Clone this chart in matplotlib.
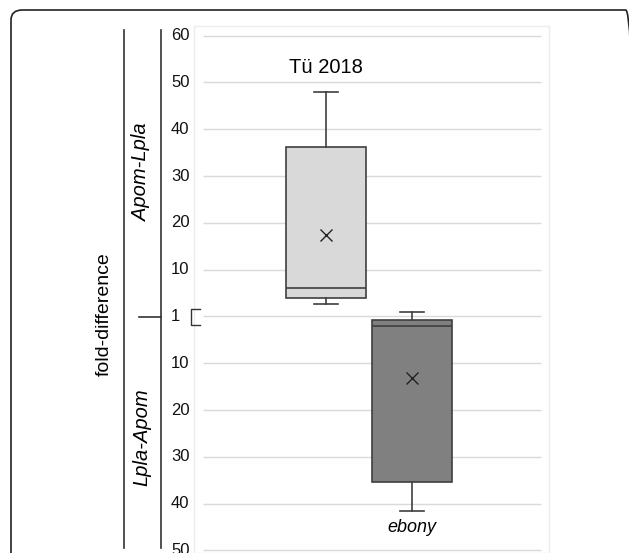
import matplotlib.pyplot as plt
from matplotlib.patches import FancyBboxPatch
from matplotlib.lines import Line2D

plt.rcParams['font.family'] = ['Liberation Sans', 'DejaVu Sans']
plt.rcParams['font.size'] = 12

# fold-difference, drawn as signed values (negative = Lpla-Apom side)
groups = ["Tü 2018", "ebony"]
whis_hi = [48.0, 1.0]
q3 = [36.2, -0.7]
medians = [6.1, -2.0]
q1 = [3.9, -35.3]
whis_lo = [2.6, -41.6]
means = [17.3, -13.1]
box_colors = ["#d9d9d9", "#808080"]

tick_vals = [60, 50, 40, 30, 20, 10, 0, -10, -20, -30, -40, -50]
tick_labels = ["60", "50", "40", "30", "20", "10", "1", "10", "20", "30", "40", "50"]

W, H = 629, 553
fig = plt.figure(figsize=(W / 100, H / 100), dpi=100)


def fx(px):
    return px / W


def fy(py):
    return 1 - py / H


# plot area in pixels
left, right, top, bottom = 194, 549, 26, 553
ax = fig.add_axes([fx(left), fy(bottom), fx(right) - fx(left), fy(top) - fy(bottom)])

stats = []
for i in range(len(groups)):
    stats.append({
        "med": medians[i], "q1": q1[i], "q3": q3[i],
        "whislo": whis_lo[i], "whishi": whis_hi[i], "mean": means[i],
        "fliers": [],
    })

edge = "#3f3f3f"
bp = ax.bxp(
    stats, positions=[1, 2], widths=0.92, patch_artist=True,
    showmeans=True, showfliers=False,
    boxprops=dict(edgecolor=edge, linewidth=1.2),
    medianprops=dict(color=edge, linewidth=1.2),
    whiskerprops=dict(color=edge, linewidth=1.2),
    capprops=dict(color=edge, linewidth=1.2),
    capwidths=0.27,
    meanprops=dict(marker="x", markeredgecolor="#222222", markersize=8, markeredgewidth=1.0),
    zorder=3,
)
for patch, c in zip(bp["boxes"], box_colors):
    patch.set_facecolor(c)

# gridlines (not spanning full plot box)
ax.hlines(tick_vals, -0.43, 3.50, color="#d9d9d9", linewidth=1.0, zorder=1)

ax.set_xlim(-0.535, 3.593)
ax.set_ylim(-50.55, 62.05)
ax.set_xticks([])
ax.set_yticks([])
for s in ax.spines.values():
    s.set_color("#ececec")
    s.set_linewidth(1.0)

# tick labels left of the plot box
for v, lab in zip(tick_vals, tick_labels):
    ax.annotate(lab, xy=(0, v), xycoords=("axes fraction", "data"),
                xytext=(-23, 0), textcoords="offset pixels",
                ha="left", va="center", fontsize=12, color="#111111",
                annotation_clip=False)

# group labels
ax.text(1, 53.1, groups[0], ha="center", va="center", fontsize=14.5)
ax.text(2, -45.0, groups[1], ha="center", va="center", fontsize=13, style="italic")

# left-side decorations
line_kw = dict(color="#333333", linewidth=1.2, transform=fig.transFigure)
fig.add_artist(Line2D([fx(161), fx(161)], [fy(30), fy(548)], **line_kw))
fig.add_artist(Line2D([fx(124), fx(124)], [fy(30), fy(548)], **line_kw))
fig.add_artist(Line2D([fx(139), fx(161)], [fy(316.5), fy(316.5)], **line_kw))
# small bracket at 1
fig.add_artist(Line2D([fx(200), fx(191), fx(191), fx(200)],
                      [fy(309), fy(309), fy(325), fy(325)],
                      color="#333333", linewidth=1.0, transform=fig.transFigure))

fig.text(fx(104), fy(314), "fold-difference", rotation=90, ha="center", va="center", fontsize=14)
fig.text(fx(142), fy(172), "Apom-Lpla", rotation=90, ha="center", va="center",
         fontsize=14.5, style="italic")
fig.text(fx(142), fy(437), "Lpla-Apom", rotation=90, ha="center", va="center",
         fontsize=14.5, style="italic")

# outer rounded frame
frame = FancyBboxPatch((fx(11), fy(600)), fx(637) - fx(11), fy(10) - fy(600),
                       boxstyle="round,pad=0,rounding_size=0.018",
                       transform=fig.transFigure, facecolor="none",
                       edgecolor="#222222", linewidth=1.2)
fig.add_artist(frame)

fig.savefig("out.png", dpi=100)
